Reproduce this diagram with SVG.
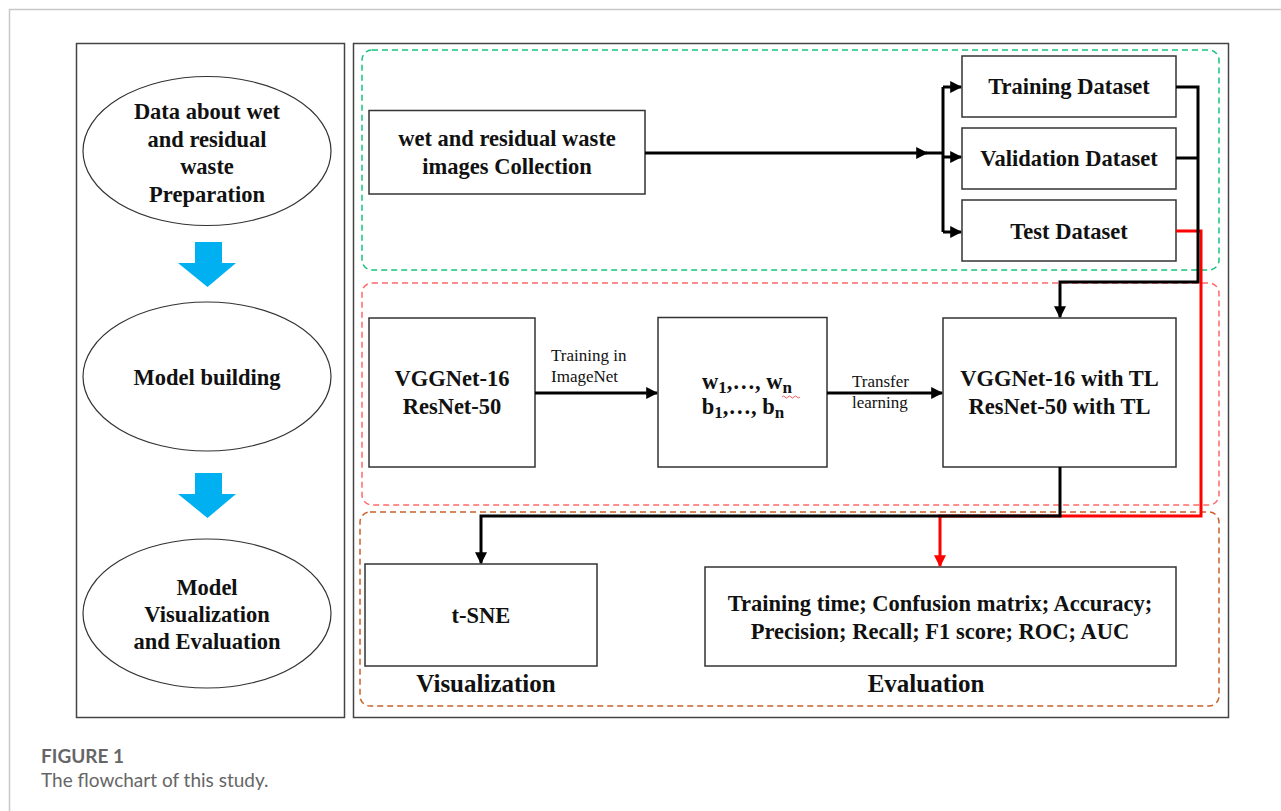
<svg xmlns="http://www.w3.org/2000/svg" width="1281" height="811" viewBox="0 0 1281 811">
<defs>
<style>
.frame{fill:none;stroke:#c8c8c8;stroke-width:1.5}
.panel{fill:#fff;stroke:#444;stroke-width:1.5}
.box{fill:#fff;stroke:#333;stroke-width:1.5}
.ell{fill:#fff;stroke:#333;stroke-width:1.2}
.t{font-family:"Liberation Serif","Times New Roman",serif;font-weight:bold;font-size:22.5px;fill:#111;text-anchor:middle}
.lbl{font-family:"Liberation Serif","Times New Roman",serif;font-size:17px;fill:#111}
.big{font-size:25px}
.blk{fill:none;stroke:#000;stroke-width:3}
.red{fill:none;stroke:#f00;stroke-width:3}
.dash{fill:none;stroke-width:1.5;stroke-dasharray:6 4}
.blue{fill:#00b0f0}
.cap{font-family:Lato,"Open Sans",sans-serif;font-size:19px;fill:#666}
</style>
<marker id="ab" viewBox="0 0 10 10" refX="9" refY="5" markerWidth="4" markerHeight="4" orient="auto" markerUnits="strokeWidth"><path d="M0,0 L10,5 L0,10 z" fill="#000"/></marker>
<marker id="ar" viewBox="0 0 10 10" refX="9" refY="5" markerWidth="4" markerHeight="4" orient="auto" markerUnits="strokeWidth"><path d="M0,0 L10,5 L0,10 z" fill="#f00"/></marker>
</defs>
<rect width="1281" height="811" fill="#fff"/>
<rect class="frame" x="9.5" y="9.5" width="1300" height="900"/>

<g id="left-panel">
<rect class="panel" x="76.5" y="43.5" width="268" height="674"/>
</g>
<g id="right-panel">
<rect class="panel" x="353.5" y="43.5" width="875" height="674"/>
</g>

<g id="region-data">
<rect class="dash" x="362" y="50" width="857" height="220" rx="10" stroke="#19c37d"/>
</g>
<g id="region-model">
<rect class="dash" x="362" y="283" width="857" height="222" rx="10" stroke="#ff6b6b"/>
</g>
<g id="region-eval">
<rect class="dash" x="360" y="512" width="859" height="194" rx="10" stroke="#c8622a"/>
</g>

<g id="stage-data">
<ellipse class="ell" cx="207" cy="151" rx="124" ry="74.5"/>
<text class="t" x="207" y="119" font-size="23">Data about wet</text>
<text class="t" x="207" y="147" font-size="23">and residual</text>
<text class="t" x="207" y="174" font-size="23">waste</text>
<text class="t" x="207" y="202" font-size="23">Preparation</text>
</g>
<g id="stage-arrow-1">
<path class="blue" d="M195,242 H222 V263 H236 L207.5,287 L178,263 H195 z"/>
</g>
<g id="stage-model">
<ellipse class="ell" cx="207" cy="376.5" rx="124" ry="74.5"/>
<text class="t" x="207" y="385" font-size="23">Model building</text>
</g>
<g id="stage-arrow-2">
<path class="blue" d="M195,473 H222 V494 H236 L207.5,518 L178,494 H195 z"/>
</g>
<g id="stage-eval">
<ellipse class="ell" cx="207" cy="613.5" rx="124" ry="74.5"/>
<text class="t" x="207" y="595" font-size="23">Model</text>
<text class="t" x="207" y="622" font-size="23">Visualization</text>
<text class="t" x="207" y="649" font-size="23">and Evaluation</text>
</g>

<g id="collection">
<rect class="box" x="369" y="110.5" width="276" height="83.5"/>
<text class="t" x="507" y="146">wet and residual waste</text>
<text class="t" x="507" y="174">images Collection</text>
</g>
<g id="training-dataset">
<rect class="box" x="962" y="56" width="214" height="61"/>
<text class="t" x="1069" y="94">Training Dataset</text>
</g>
<g id="validation-dataset">
<rect class="box" x="962" y="128" width="214" height="61"/>
<text class="t" x="1069" y="166">Validation Dataset</text>
</g>
<g id="test-dataset">
<rect class="box" x="962" y="200" width="214" height="61"/>
<text class="t" x="1069" y="239">Test Dataset</text>
</g>

<g id="base-models">
<rect class="box" x="369" y="318" width="166" height="149"/>
<text class="t" x="452" y="386">VGGNet-16</text>
<text class="t" x="452" y="414">ResNet-50</text>
</g>
<g id="weights">
<rect class="box" x="658" y="317.5" width="169" height="149.5"/>
<text class="t" x="747" y="389" font-size="24">w<tspan font-size="17" dy="4">1</tspan><tspan dy="-4">,…, w</tspan><tspan font-size="17" dy="4">n</tspan></text>
<text class="t" x="743" y="414" font-size="24">b<tspan font-size="17" dy="4">1</tspan><tspan dy="-4">,…, b</tspan><tspan font-size="17" dy="4">n</tspan></text>
<path d="M782,397 q1.5,-2 3,0 t3,0 t3,0 t3,0 t3,0 t3,0" fill="none" stroke="#e33" stroke-width="0.8"/>
</g>
<g id="tl-models">
<rect class="box" x="943" y="318" width="233" height="149"/>
<text class="t" x="1059.5" y="386">VGGNet-16 with TL</text>
<text class="t" x="1059.5" y="414">ResNet-50 with TL</text>
</g>

<g id="tsne">
<rect class="box" x="365" y="564" width="232" height="102"/>
<text class="t" x="481" y="623">t-SNE</text>
<text class="t big" x="486" y="692">Visualization</text>
</g>
<g id="evaluation">
<rect class="box" x="705" y="567" width="471" height="99"/>
<text class="t" x="940" y="611" font-size="23.5">Training time; Confusion matrix; Accuracy;</text>
<text class="t" x="940" y="639" font-size="23.5">Precision; Recall; F1 score; ROC; AUC</text>
<text class="t big" x="926" y="692">Evaluation</text>
</g>

<g id="connectors">
<line class="blk" x1="645" y1="153" x2="927" y2="153" marker-end="url(#ab)"/>
<line class="blk" x1="926" y1="153" x2="943" y2="153"/>
<path class="blk" d="M943,87 V232"/>
<line class="blk" x1="943" y1="87" x2="961" y2="87" marker-end="url(#ab)"/>
<line class="blk" x1="943" y1="157" x2="961" y2="157" marker-end="url(#ab)"/>
<line class="blk" x1="943" y1="232" x2="961" y2="232" marker-end="url(#ab)"/>
<path class="red" d="M1176,231 H1201 V516 H940 V566" marker-end="url(#ar)"/>
<path class="blk" d="M1176,87 H1198 V282 H1060 V317" marker-end="url(#ab)"/>
<path class="blk" d="M1176,158 H1198"/>
<path class="blk" d="M1060,467 V516 H481 V563" marker-end="url(#ab)"/>
<line class="blk" x1="535" y1="393" x2="657" y2="393" marker-end="url(#ab)"/>
<line class="blk" x1="827" y1="393" x2="942" y2="393" marker-end="url(#ab)"/>
<text class="lbl" x="551" y="361">Training in</text>
<text class="lbl" x="551" y="382">ImageNet</text>
<text class="lbl" x="852" y="387">Transfer</text>
<text class="lbl" x="852" y="408">learning</text>
</g>

<g id="caption">
<text class="cap" x="41" y="763" font-weight="bold">FIGURE 1</text>
<text class="cap" x="41" y="787">The flowchart of this study.</text>
</g>
</svg>
